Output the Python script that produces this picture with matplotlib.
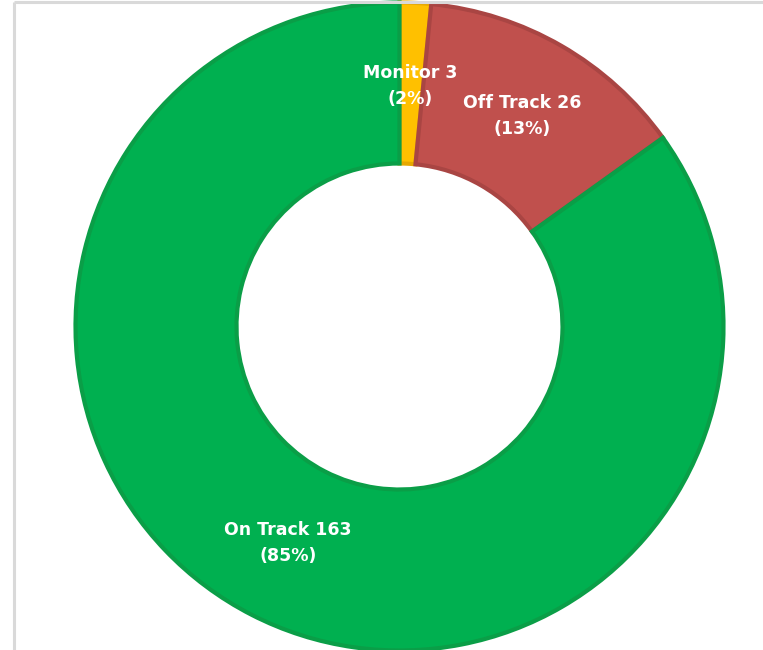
import matplotlib
matplotlib.use("Agg")
import matplotlib.pyplot as plt

# data (clockwise from 12 o'clock)
labels = ["Monitor", "Off Track", "On Track"]
counts = [3, 26, 163]
pcts = ["2%", "13%", "85%"]

faces = ["#FFC000", "#C0504D", "#00B050"]
edges = ["#E6A800", "#A94543", "#0A9E47"]

fig = plt.figure(figsize=(7.63, 6.5), dpi=100)
ax = fig.add_axes([0, 0, 1, 1])

cx, cy, R = 399.5, 323.5, 324
wedges, _ = ax.pie(counts, colors=faces, startangle=90, counterclock=False,
                   center=(cx, cy), radius=R, frame=True,
                   wedgeprops=dict(width=R - 163, linewidth=3))
for w, ec in zip(wedges, edges):
    w.set_edgecolor(ec)
ax.set_xlim(0, 763)
ax.set_ylim(0, 650)
ax.set_aspect("equal")
ax.axis("off")

# label positions (pixel coords, y from bottom)
label_pos = [(410, 564), (522, 534), (288, 107)]
for (x, y), lab, n, p in zip(label_pos, labels, counts, pcts):
    ax.text(x, y, f"{lab} {n}\n({p})", ha="center", va="center",
            fontsize=12.5, fontweight="bold", color="white",
            linespacing=1.6, family="DejaVu Sans")

# frame lines (left and top)
ax.plot([14, 14], [0, 648], color="#D9D9D9", lw=2.2, solid_capstyle="butt")
ax.plot([14, 763], [648, 648], color="#D9D9D9", lw=2.2, solid_capstyle="butt")

fig.savefig("out.png", dpi=100, facecolor="white")
